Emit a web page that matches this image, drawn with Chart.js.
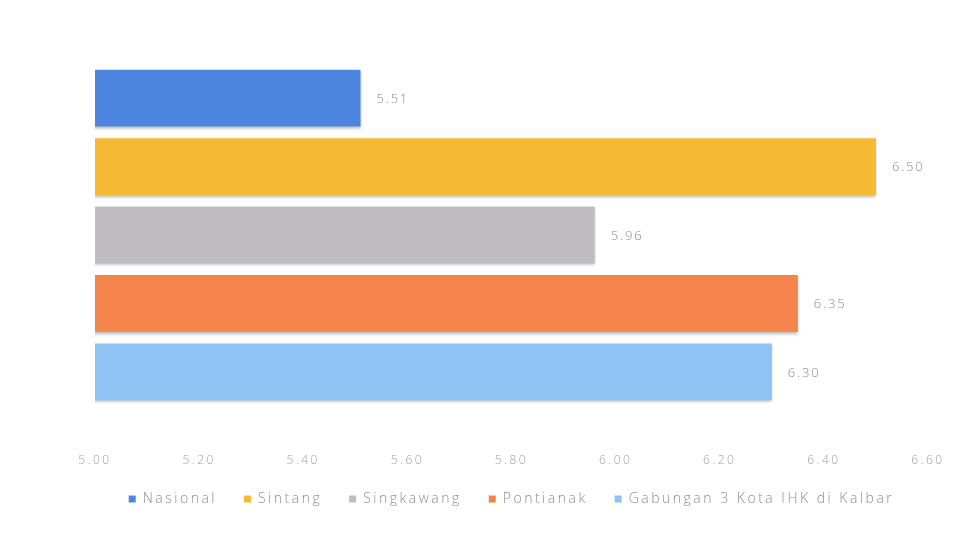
<!DOCTYPE html>
<html>
<head>
<meta charset="utf-8">
<script src="https://cdn.jsdelivr.net/npm/chart.js@4/dist/chart.umd.min.js"></script>
<style>
  html, body { margin: 0; padding: 0; background: #ffffff; }
  #wrap { width: 964px; height: 534px; position: relative; }
</style>
</head>
<body>
<div id="wrap"><canvas id="chart" width="964" height="534"></canvas></div>
<script>
// Series names (one bar each) and their values
const seriesNames = ['Nasional', 'Sintang', 'Singkawang', 'Pontianak', 'Gabungan 3 Kota IHK di Kalbar'];
const seriesValues = [5.51, 6.50, 5.96, 6.35, 6.30];
const seriesColors = ['#4C84DE', '#F6B933', '#BFBDC1', '#F5834C', '#8EC3F4'];
const axisTicks = [5.00, 5.20, 5.40, 5.60, 5.80, 6.00, 6.20, 6.40, 6.60];

const FONT = '"Open Sans", Lato, sans-serif';
const SPACING = '2.5px';

const datasets = seriesNames.map((name, i) => ({
  label: name,
  data: [seriesValues[i]],
  backgroundColor: seriesColors[i],
  borderWidth: 0,
  barPercentage: 0.83,
  categoryPercentage: 1.0
}));

// Wide letter spacing for all canvas text (set before measuring and drawing)
const textSpacing = {
  id: 'textSpacing',
  beforeLayout(chart) { chart.ctx.letterSpacing = SPACING; },
  beforeDraw(chart) { chart.ctx.letterSpacing = SPACING; }
};

// Soft drop shadow under each bar
const barShadow = {
  id: 'barShadow',
  beforeDatasetDraw(chart) {
    const ctx = chart.ctx;
    ctx.save();
    ctx.shadowColor = 'rgba(0,0,0,0.28)';
    ctx.shadowBlur = 3;
    ctx.shadowOffsetY = 2;
  },
  afterDatasetDraw(chart) {
    chart.ctx.restore();
  }
};

// Value labels to the right of each bar
const valueLabels = {
  id: 'valueLabels',
  afterDatasetsDraw(chart) {
    const ctx = chart.ctx;
    ctx.save();
    ctx.letterSpacing = '1.8px';
    ctx.font = '300 13px ' + FONT;
    ctx.fillStyle = '#8a8a8a';
    ctx.textAlign = 'left';
    ctx.textBaseline = 'middle';
    chart.data.datasets.forEach((ds, i) => {
      const bar = chart.getDatasetMeta(i).data[0];
      ctx.fillText(ds.data[0].toFixed(2), bar.x + 16, bar.y + 1);
    });
    ctx.restore();
  }
};

new Chart(document.getElementById('chart'), {
  type: 'bar',
  data: { labels: [''], datasets },
  options: {
    indexAxis: 'y',
    responsive: false,
    animation: false,
    layout: { padding: { left: 95, right: 36, top: 64, bottom: 18 } },
    scales: {
      y: { display: false },
      x: {
        min: axisTicks[0],
        max: axisTicks[axisTicks.length - 1],
        afterBuildTicks(scale) { scale.ticks = axisTicks.map(v => ({ value: v })); },
        afterFit(scale) { scale.height = 59; },
        grid: { display: false, drawTicks: true, tickLength: 47 },
        border: { display: false },
        ticks: {
          padding: 0,
          color: '#9c9c9c',
          font: { family: FONT, size: 12, weight: '300' },
          callback: v => Number(v).toFixed(2)
        }
      }
    },
    plugins: {
      tooltip: { enabled: false },
      legend: {
        position: 'bottom',
        labels: {
          boxWidth: 7,
          boxHeight: 7,
          padding: 27,
          color: '#8f8f8f',
          font: { family: FONT, size: 14, weight: '300' }
        }
      }
    }
  },
  plugins: [textSpacing, barShadow, valueLabels]
});
</script>
</body>
</html>
